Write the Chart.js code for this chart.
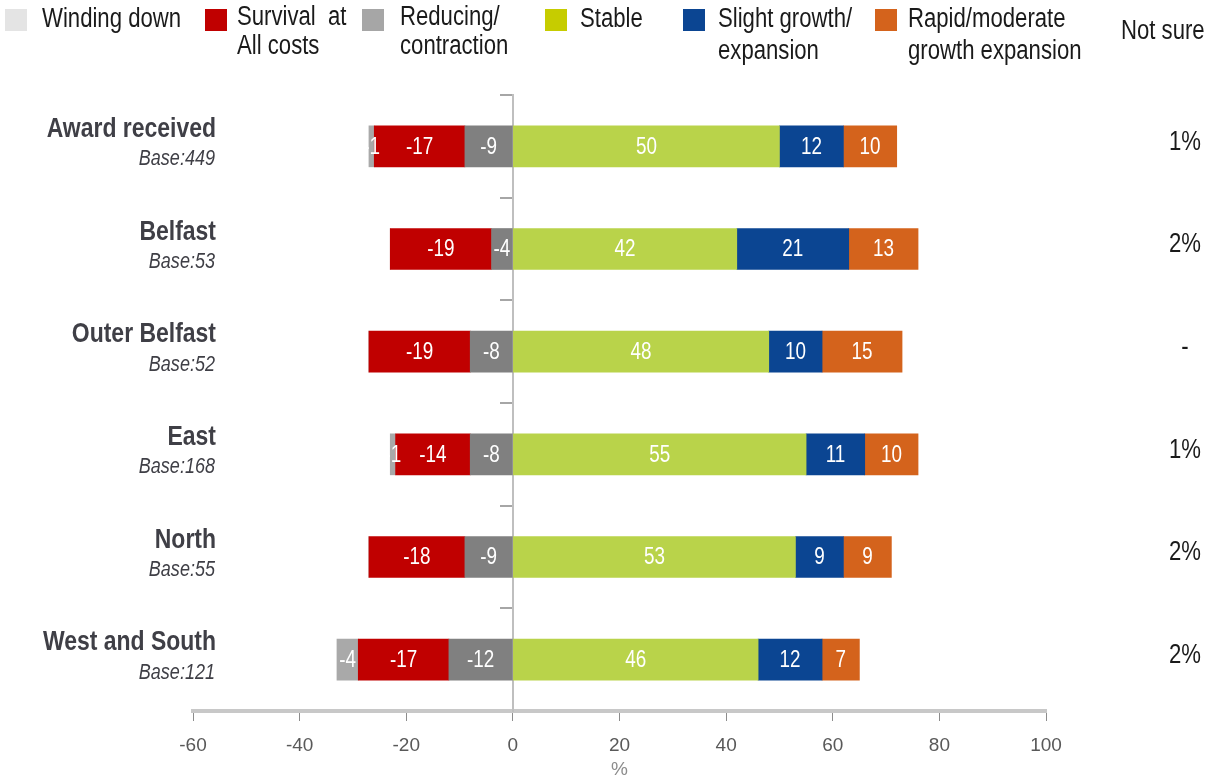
<!DOCTYPE html>
<html>
<head>
<meta charset="utf-8">
<script src="https://cdn.jsdelivr.net/npm/chart.js@4.4.1/dist/chart.umd.min.js"></script>
<style>
  html, body { margin: 0; padding: 0; background: #fff; }
  #wrap { width: 1213px; height: 781px; position: relative; }
</style>
</head>
<body>
<div id="wrap"><canvas id="c" width="1213" height="781"></canvas></div>
<script>
const categories = ["Award received", "Belfast", "Outer Belfast", "East", "North", "West and South"];
const bases = ["Base:449", "Base:53", "Base:52", "Base:168", "Base:55", "Base:121"];
const windingDown = [-1, 0, 0, -1, 0, -4];
const survival = [-17, -19, -19, -14, -18, -17];
const reducing = [-9, -4, -8, -8, -9, -12];
const stable = [50, 42, 48, 55, 53, 46];
const slightGrowth = [12, 21, 10, 11, 9, 12];
const rapidGrowth = [10, 13, 15, 10, 9, 7];
const notSure = ["1%", "2%", "-", "1%", "2%", "2%"];
const xTicks = [-60, -40, -20, 0, 20, 40, 60, 80, 100];
const legendLabels = [
  ["Winding down"], ["Survival  at", "All costs"], ["Reducing/", "contraction"],
  ["Stable"], ["Slight growth/", "expansion"], ["Rapid/moderate", "growth expansion"]
];
const notSureTitle = "Not sure";

const FONT = '"Liberation Sans", Arial, sans-serif';
const SQUEEZE = 0.82;

const barColors = {
  winding: '#a9a9a9', survival: '#c00000', reducing: '#808080',
  stable: '#b9d34a', slight: '#0b4592', rapid: '#d4631c'
};
const legendColors = ['#e4e4e4', '#c00000', '#a6a6a6', '#c6cc00', '#0b4592', '#d4631c'];

// dataset order: negatives stack outward from zero in dataset order
const datasets = [
  { label: 'Reducing/contraction', data: reducing, backgroundColor: barColors.reducing },
  { label: 'Survival at All costs', data: survival, backgroundColor: barColors.survival },
  { label: 'Winding down', data: windingDown, backgroundColor: barColors.winding },
  { label: 'Stable', data: stable, backgroundColor: barColors.stable },
  { label: 'Slight growth/expansion', data: slightGrowth, backgroundColor: barColors.slight },
  { label: 'Rapid/moderate growth expansion', data: rapidGrowth, backgroundColor: barColors.rapid }
];
datasets.forEach(d => { d.barThickness = 41; d.borderWidth = 0; });

function narrowText(ctx, text, x, y, font, align, color) {
  ctx.save();
  ctx.translate(x, y);
  ctx.scale(SQUEEZE, 1);
  ctx.font = font;
  ctx.textAlign = align;
  ctx.textBaseline = 'middle';
  ctx.fillStyle = color;
  ctx.fillText(text, 0, 0);
  ctx.restore();
}

const decorPlugin = {
  id: 'decor',
  afterDatasetsDraw(chart) {
    const ctx = chart.ctx;
    chart.data.datasets.forEach((ds, di) => {
      const meta = chart.getDatasetMeta(di);
      meta.data.forEach((bar, i) => {
        const v = ds.data[i];
        if (!v) return;
        const p = bar.getProps(['x', 'y', 'base'], true);
        narrowText(ctx, String(v), (p.x + p.base) / 2, p.y + 1, '23px ' + FONT, 'center', '#ffffff');
      });
    });
  },
  afterDraw(chart) {
    const ctx = chart.ctx;
    const yScale = chart.scales.y;
    categories.forEach((c, i) => {
      const yc = yScale.getPixelForValue(i);
      narrowText(ctx, c, 216, yc - 17, 'bold 28px ' + FONT, 'right', '#3f3f46');
      narrowText(ctx, bases[i], 215, yc + 13, 'italic 22px ' + FONT, 'right', '#3f3f46');
      narrowText(ctx, notSure[i], 1185, yc - 4, '27px ' + FONT, 'center', '#1a1a1a');
    });
    const boxX = [5, 205, 362, 545, 683, 875];
    const textX = [42, 237, 400, 580, 718, 908];
    const lineY = [[20], [18, 47], [18, 47], [20], [20, 52], [20, 52]];
    legendLabels.forEach((lines, i) => {
      ctx.fillStyle = legendColors[i];
      ctx.fillRect(boxX[i], 9, 22, 22);
      lines.forEach((t, k) => narrowText(ctx, t, textX[i], lineY[i][k], '27px ' + FONT, 'left', '#1a1a1a'));
    });
    narrowText(ctx, notSureTitle, 1121, 32, '27px ' + FONT, 'left', '#1a1a1a');
  }
};

new Chart(document.getElementById('c'), {
  type: 'bar',
  data: { labels: categories, datasets },
  options: {
    indexAxis: 'y',
    responsive: false,
    animation: false,
    layout: { padding: { left: 193, right: 167, top: 95, bottom: 0 } },
    plugins: { legend: { display: false }, tooltip: { enabled: false } },
    scales: {
      x: {
        stacked: true,
        min: -60, max: 100,
        afterBuildTicks(scale) { scale.ticks = xTicks.map(v => ({ value: v })); },
        afterFit(scale) { scale.height = 70; },
        grid: { display: true, drawOnChartArea: false, drawTicks: true, tickLength: 10, color: '#8c8c8c', lineWidth: 1 },
        border: { display: true, color: '#c8c8c8', width: 4 },
        ticks: { color: '#595959', font: { family: FONT, size: 19 }, padding: 13, maxRotation: 0 },
        title: { display: true, text: '%', color: '#8c8c8c', font: { family: FONT, size: 19 }, padding: { top: 0, bottom: 0 } }
      },
      y: {
        stacked: true,
        position: { x: 0 },
        grid: { display: true, offset: true, drawOnChartArea: false, drawTicks: true, tickLength: 12, color: '#a6a6a6', lineWidth: 2 },
        border: { display: true, color: '#bfbfbf', width: 2 },
        ticks: { display: false }
      }
    }
  },
  plugins: [decorPlugin]
});
</script>
</body>
</html>
